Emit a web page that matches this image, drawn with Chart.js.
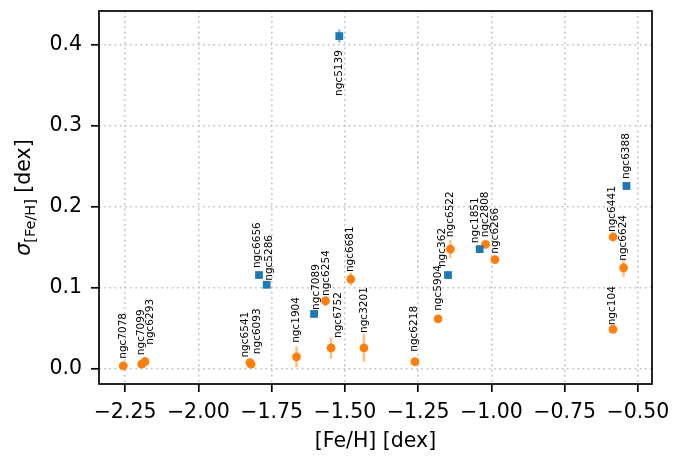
<!DOCTYPE html>
<html>
<head>
<meta charset="utf-8">
<script src="https://cdn.jsdelivr.net/npm/chart.js@4/dist/chart.umd.min.js"></script>
<style>
  html, body { margin: 0; padding: 0; background: #fff; }
  #wrap { width: 682px; height: 456px; position: relative; }
</style>
</head>
<body>
<div id="wrap"><canvas id="spread"></canvas></div>
<script>
// Clusters with a square marker (spread from two populations)
const sqNames = ["ngc5139", "ngc6656", "ngc5286", "ngc7089", "ngc362", "ngc1851", "ngc6388"];
const sqFeH   = [-1.519, -1.793, -1.767, -1.605, -1.148, -1.040, -0.539];
const sqSigma = [0.411, 0.116, 0.104, 0.068, 0.116, 0.148, 0.226];
const sqErr   = [0.008, 0.004, 0.004, 0.003, 0.003, 0.004, 0.004];

// Clusters with a round marker
const dotNames = ["ngc7078", "ngc7099", "ngc6293", "ngc6541", "ngc6093", "ngc1904", "ngc6752",
                  "ngc6254", "ngc6681", "ngc3201", "ngc6218", "ngc5904", "ngc6522", "ngc2808",
                  "ngc6266", "ngc6441", "ngc6624", "ngc104"];
const dotFeH   = [-2.256, -2.193, -2.182, -1.824, -1.820, -1.665, -1.547,
                  -1.566, -1.480, -1.435, -1.261, -1.182, -1.140, -1.020,
                  -0.988, -0.585, -0.549, -0.585];
const dotSigma = [0.004, 0.006, 0.009, 0.008, 0.006, 0.015, 0.026,
                  0.084, 0.111, 0.026, 0.009, 0.062, 0.148, 0.154,
                  0.135, 0.163, 0.125, 0.049];
const dotErr   = [0.003, 0.003, 0.006, 0.004, 0.003, 0.013, 0.013,
                  0.006, 0.008, 0.017, 0.004, 0.004, 0.011, 0.003,
                  0.003, 0.003, 0.011, 0.003];

// Label nudges in px: [dx, gap above the marker]; negative gap puts the label below
const sqNudge  = [[0, -14], [-2, 7], [3, 4], [2, 4], [-6, 8], [-4, 6], [0, 7]];
const dotNudge = [[0, 7], [-1, 9], [5, 17], [-5, 5], [6, 10], [0, 14], [7, 10],
                  [1, 5], [0, 7], [0, 15], [-1, 10], [0, 8], [0, 12], [0, 7],
                  [0, 6], [-1, 5], [0, 7], [-1, 4]];

const FONT = "'DejaVu Sans', sans-serif";
const BLUE = "#1f77b4";
const ORANGE = "#ff7f0e";

function toPoints(xs, ys) {
    return xs.map((x, i) => ({ x: x, y: ys[i] }));
}

const groups = [
    { names: sqNames, err: sqErr, nudge: sqNudge, errColor: "rgba(31,119,180,0.5)" },
    { names: dotNames, err: dotErr, nudge: dotNudge, errColor: "rgba(255,127,14,0.5)" },
];

// vertical error bars under the markers
const errorBars = {
    id: "errorBars",
    beforeDatasetsDraw(chart) {
        const ctx = chart.ctx;
        const xs = chart.scales.x, ys = chart.scales.y;
        ctx.save();
        ctx.lineWidth = 2.5;
        groups.forEach((g, di) => {
            ctx.strokeStyle = g.errColor;
            chart.data.datasets[di].data.forEach((p, i) => {
                const px = xs.getPixelForValue(p.x);
                ctx.beginPath();
                ctx.moveTo(px, ys.getPixelForValue(p.y - g.err[i]));
                ctx.lineTo(px, ys.getPixelForValue(p.y + g.err[i]));
                ctx.stroke();
            });
        });
        ctx.restore();
    },
};

// rotated cluster names, frame box and axis titles
const decorations = {
    id: "decorations",
    afterDatasetsDraw(chart) {
        const ctx = chart.ctx;
        const xs = chart.scales.x, ys = chart.scales.y;
        ctx.save();
        ctx.fillStyle = "#000";
        ctx.font = "10.5px " + FONT;
        ctx.textBaseline = "middle";
        groups.forEach((g, di) => {
            chart.data.datasets[di].data.forEach((p, i) => {
                const [dx, gap] = g.nudge[i];
                const px = xs.getPixelForValue(p.x) + dx;
                const py = ys.getPixelForValue(p.y);
                ctx.save();
                ctx.translate(px, py - gap);
                ctx.textAlign = gap >= 0 ? "left" : "right";
                ctx.rotate(-Math.PI / 2);
                ctx.fillText(g.names[i], 0, 0);
                ctx.restore();
            });
        });
        ctx.restore();
    },
    afterDraw(chart) {
        const ctx = chart.ctx;
        const a = chart.chartArea;
        ctx.save();
        ctx.strokeStyle = "#000";
        ctx.lineWidth = 1.7;
        ctx.strokeRect(a.left, a.top, a.right - a.left, a.bottom - a.top);

        // x title
        ctx.fillStyle = "#000";
        ctx.font = "20.5px " + FONT;
        ctx.textAlign = "center";
        ctx.textBaseline = "middle";
        ctx.fillText("[Fe/H] [dex]", (a.left + a.right) / 2, 442);

        // y title: sigma with a subscript, rotated
        const big = "20.5px " + FONT;
        const sigmaFont = "italic 20.5px " + FONT;
        const small = "14.5px " + FONT;
        ctx.font = sigmaFont;
        const w1 = ctx.measureText("\u03c3").width;
        ctx.font = small;
        const w2 = ctx.measureText("[Fe/H]").width;
        ctx.font = big;
        const w3 = ctx.measureText(" [dex]").width;
        const total = w1 + w2 + w3;
        ctx.translate(30, (a.top + a.bottom) / 2);
        ctx.rotate(-Math.PI / 2);
        ctx.textAlign = "left";
        ctx.textBaseline = "alphabetic";
        let x0 = -total / 2;
        ctx.font = sigmaFont;
        ctx.fillText("\u03c3", x0, 0);
        x0 += w1;
        ctx.font = small;
        ctx.fillText("[Fe/H]", x0, 5);
        x0 += w2;
        ctx.font = big;
        ctx.fillText(" [dex]", x0, 0);
        ctx.restore();
    },
};

const minus = (s) => s.replace("-", "\u2212");

const gridOpts = {
    color: "#bdbdbd",
    lineWidth: 1.6,
    tickLength: 8,
    tickColor: "#000",
    tickWidth: 1.7,
    tickBorderDash: [],
};

new Chart(document.getElementById("spread"), {
    type: "scatter",
    data: {
        datasets: [
            {
                data: toPoints(sqFeH, sqSigma),
                pointStyle: "rect",
                pointRadius: 5.5,
                pointBackgroundColor: BLUE,
                pointBorderWidth: 0,
            },
            {
                data: toPoints(dotFeH, dotSigma),
                pointStyle: "circle",
                pointRadius: 4.4,
                pointBackgroundColor: ORANGE,
                pointBorderWidth: 0,
            },
        ],
    },
    options: {
        responsive: true,
        maintainAspectRatio: false,
        animation: false,
        events: [],
        layout: { padding: { top: 11, right: 30, left: 0, bottom: 0 } },
        plugins: { legend: { display: false }, tooltip: { enabled: false } },
        scales: {
            x: {
                type: "linear",
                min: -2.339,
                max: -0.452,
                afterFit: (s) => {
                    s.height = 72;
                    s.paddingLeft = 0;
                    s.paddingRight = 0;
                },
                ticks: {
                    stepSize: 0.25,
                    includeBounds: false,
                    maxRotation: 0,
                    padding: 8,
                    color: "#000",
                    font: { family: FONT, size: 20.5 },
                    callback: (v) => minus(v.toFixed(2)),
                },
                grid: gridOpts,
                border: { display: false, dash: [1.6, 3.6] },
            },
            y: {
                type: "linear",
                min: -0.0185,
                max: 0.442,
                afterFit: (s) => {
                    s.width = 99;
                    s.paddingTop = 0;
                    s.paddingBottom = 0;
                },
                ticks: {
                    stepSize: 0.1,
                    includeBounds: false,
                    padding: 9,
                    color: "#000",
                    font: { family: FONT, size: 20.5 },
                    callback: (v) => minus(v.toFixed(1)),
                },
                grid: gridOpts,
                border: { display: false, dash: [1.6, 3.6] },
            },
        },
    },
    plugins: [errorBars, decorations],
});
</script>
</body>
</html>
